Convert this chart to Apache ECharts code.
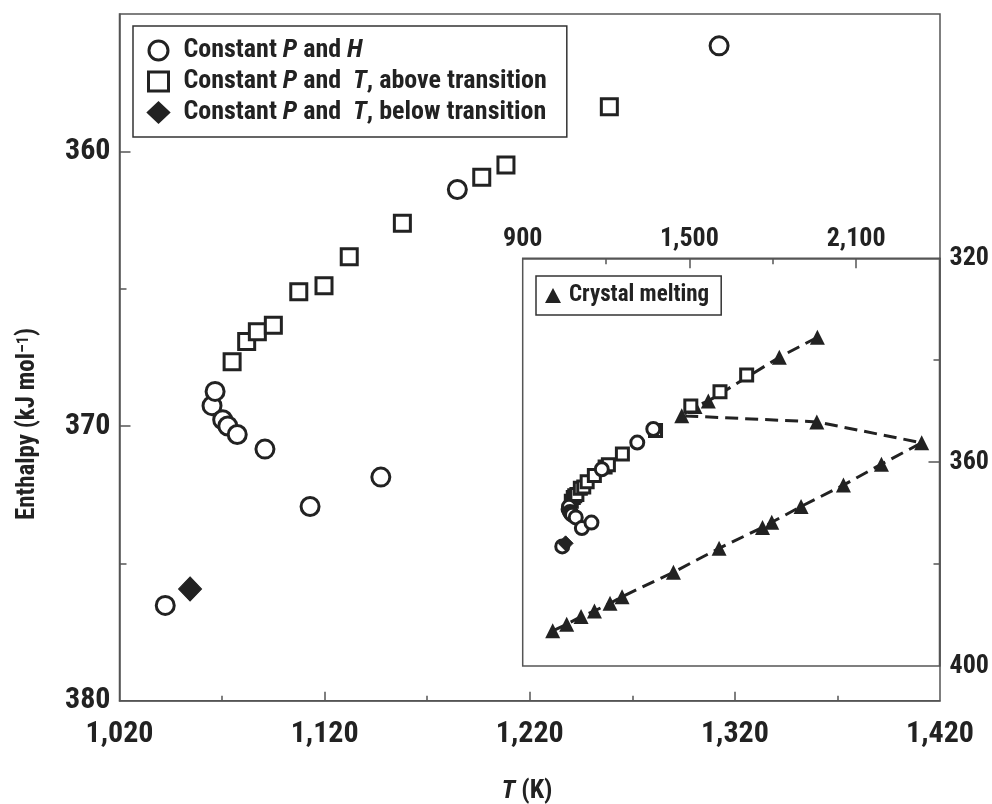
<!DOCTYPE html>
<html>
<head>
<meta charset="utf-8">
<script src="https://cdn.jsdelivr.net/npm/echarts@6/dist/echarts.min.js"></script>
<style>
  html, body { margin: 0; padding: 0; background: #fff; }
  #chart { width: 992px; height: 804px; }
</style>
</head>
<body>
<div id="chart"></div>
<script>
// Constant P and H runs (temperature K, enthalpy kJ/mol)
const hT = [1042.3, 1065.1, 1066.6, 1070.3, 1072.8, 1077.4, 1090.9, 1112.9, 1147.4, 1184.7, 1312.3, 1370];
const hH = [376.53, 369.26, 368.74, 369.77, 370.0, 370.31, 370.84, 372.93, 371.86, 361.39, 356.16, 353.5];

// Constant P and T, above transition
const aT = [1074.9, 1082.0, 1087.2, 1095.0, 1107.4, 1119.7, 1132.0, 1157.9, 1196.6, 1208.4, 1258.8, 1378, 1505, 1610, 1706];
const aH = [367.66, 366.92, 366.57, 366.33, 365.11, 364.89, 363.84, 362.62, 360.94, 360.5, 358.38, 353.8, 349.0, 346.2, 342.9];

// Constant P and T, below transition
const bT = [1054.4];
const bH = [375.93];

// Crystal melting path (in the order it was traced)
const mT = [1008, 1058.4, 1110, 1158.1, 1214.3, 1257.5, 1442.4, 1606.8, 1763, 1796.3, 1901.8, 2054.3, 2191, 2336, 1958.5, 1472.4, 1520, 1568, 1823.6, 1960.5];
const mH = [393.1, 391.8, 390.3, 389.2, 387.7, 386.4, 381.6, 376.9, 372.8, 371.8, 368.7, 364.5, 360.4, 356.2, 352.1, 350.9, 349.1, 348.0, 339.4, 335.5];

// Axis ticks and labels
const mainXLabels = [1020, 1120, 1220, 1320, 1420];
const mainXMajor = [1120, 1220, 1320];
const mainXMinor = [1070, 1170, 1270, 1370];
const mainYLabels = [360, 370, 380];
const mainYMajor = [360, 370];
const mainYMinor = [365, 375];
const insetXLabels = [900, 1500, 2100];
const insetXMajor = [1500, 2100];
const insetXMinor = [1200, 1800];
const insetYLabels = [320, 360, 400];
const insetYMajor = [360];
const insetYMinor = [340, 380];

const seriesNames = [
  'Constant P and H',
  'Constant P and T, above transition',
  'Constant P and T, below transition'
];
const legendRich = {
  'Constant P and H': 'Constant {it|P} and {it|H}',
  'Constant P and T, above transition': 'Constant {it|P} and  {it|T}, above transition',
  'Constant P and T, below transition': 'Constant {it|P} and  {it|T}, below transition'
};
const meltName = 'Crystal melting';

const zip = (xs, ys) => xs.map((x, i) => [x, ys[i]]);

const FONT = "'Roboto Condensed', 'Liberation Sans Narrow', 'DejaVu Sans Condensed', sans-serif";
const INK = '#222';
const FRAME = '#555';

function valueAxis(o) {
  return Object.assign({
    type: 'value',
    scale: false,
    splitLine: { show: false },
    axisLine: { show: true, onZero: false, lineStyle: { color: FRAME, width: 1.5 } },
    axisTick: { show: false },
    axisLabel: { show: false },
  }, o);
}

function tickLabel(values, size, margin) {
  return {
    show: true,
    customValues: values,
    margin: margin,
    color: INK,
    fontFamily: FONT,
    fontWeight: 'bold',
    fontSize: size,
    formatter: v => Number(v).toLocaleString('en-US')
  };
}

function ticks(values, len) {
  return { show: true, inside: true, length: len, customValues: values, lineStyle: { color: FRAME, width: 1.5 } };
}

const chart = echarts.init(document.getElementById('chart'), null, { renderer: 'canvas' });

const option = {
  backgroundColor: '#fff',
  animation: false,
  grid: [
    { left: 119.5, top: 14, width: 820.5, height: 686.7, show: true, borderColor: FRAME, borderWidth: 1.5, backgroundColor: 'transparent' },
    { left: 522.7, top: 258.3, width: 416.8, height: 407.7, show: true, borderColor: FRAME, borderWidth: 1.5, backgroundColor: '#fff', z: 3 }
  ],
  xAxis: [
    valueAxis({ gridIndex: 0, position: 'bottom', min: 1020, max: 1420,
      axisTick: ticks(mainXMajor, 9), axisLabel: tickLabel(mainXLabels, 30, 19) }),
    valueAxis({ gridIndex: 0, position: 'bottom', min: 1020, max: 1420,
      axisLine: { show: false }, axisTick: ticks(mainXMinor, 5) }),
    valueAxis({ gridIndex: 1, position: 'top', min: 900, max: 2400, z: 4,
      axisTick: ticks(insetXMajor, 10), axisLabel: tickLabel(insetXLabels, 26, 6) }),
    valueAxis({ gridIndex: 1, position: 'top', min: 900, max: 2400, z: 4,
      axisLine: { show: false }, axisTick: ticks(insetXMinor, 6) })
  ],
  yAxis: [
    valueAxis({ gridIndex: 0, position: 'left', inverse: true, min: 355, max: 380,
      axisTick: ticks(mainYMajor, 11), axisLabel: tickLabel(mainYLabels, 30, 9) }),
    valueAxis({ gridIndex: 0, position: 'left', inverse: true, min: 355, max: 380,
      axisLine: { show: false }, axisTick: ticks(mainYMinor, 7) }),
    valueAxis({ gridIndex: 1, position: 'right', inverse: true, min: 320, max: 400, z: 4,
      axisTick: ticks(insetYMajor, 11), axisLabel: tickLabel(insetYLabels, 26, 10) }),
    valueAxis({ gridIndex: 1, position: 'right', inverse: true, min: 320, max: 400, z: 4,
      axisLine: { show: false }, axisTick: ticks(insetYMinor, 6) })
  ],
  legend: [
    {
      data: seriesNames,
      orient: 'vertical',
      left: 133, top: 26,
      padding: [9, 20, 9, 14],
      itemGap: 0,
      itemWidth: 20, itemHeight: 19,
      borderColor: '#333', borderWidth: 1.5,
      backgroundColor: '#fff',
      selectedMode: false,
      itemStyle: { borderWidth: 3 },
      formatter: name => legendRich[name],
      textStyle: {
        color: INK, fontFamily: FONT, fontWeight: 'bold', fontSize: 26, lineHeight: 31,
        padding: [0, 0, 0, 10],
        rich: {
          it: { color: INK, fontFamily: FONT, fontWeight: 'bold', fontStyle: 'italic', fontSize: 26, lineHeight: 31 }
        }
      }
    },
    {
      data: [{ name: meltName, icon: 'triangle' }],
      orient: 'vertical',
      left: 536, top: 276,
      padding: [6, 12, 6, 9],
      itemWidth: 16, itemHeight: 15,
      borderColor: '#333', borderWidth: 1.5,
      backgroundColor: '#fff',
      selectedMode: false,
      z: 5,
      itemStyle: { borderWidth: 0 },
      textStyle: { color: INK, fontFamily: FONT, fontWeight: 'bold', fontSize: 23, lineHeight: 27, padding: [0, 0, 0, 3] }
    }
  ],
  graphic: [
    {
      type: 'text', x: 28, y: 424, rotation: Math.PI / 2,
      style: {
        text: 'Enthalpy (kJ mol{sup|–1})',
        fill: INK, fontFamily: FONT, fontWeight: 'bold', fontSize: 25,
        align: 'center', verticalAlign: 'middle',
        rich: { sup: { fill: INK, fontFamily: FONT, fontWeight: 'bold', fontSize: 16, verticalAlign: 'top', padding: [0, 0, 8, 0] } }
      }
    },
    {
      type: 'text', x: 527, y: 791,
      style: {
        text: '{it|T} (K)',
        fill: INK, fontFamily: FONT, fontWeight: 'bold', fontSize: 26,
        align: 'center', verticalAlign: 'middle',
        rich: { it: { fill: INK, fontFamily: FONT, fontWeight: 'bold', fontStyle: 'italic', fontSize: 26 } }
      }
    }
  ],
  series: [
    // main panel
    { name: seriesNames[0], type: 'scatter', xAxisIndex: 0, yAxisIndex: 0, data: zip(hT, hH),
      symbol: 'circle', symbolSize: 18, itemStyle: { color: '#fff', borderColor: INK, borderWidth: 3, opacity: 1 } },
    { name: seriesNames[1], type: 'scatter', xAxisIndex: 0, yAxisIndex: 0, data: zip(aT, aH),
      symbol: 'rect', symbolSize: 16, itemStyle: { color: '#fff', borderColor: INK, borderWidth: 3, opacity: 1 } },
    { name: seriesNames[2], type: 'scatter', xAxisIndex: 0, yAxisIndex: 0, data: zip(bT, bH),
      symbol: 'diamond', symbolSize: [23, 24], itemStyle: { color: INK, borderColor: INK, borderWidth: 1, opacity: 1 } },
    // inset panel
    { name: meltName, type: 'line', xAxisIndex: 2, yAxisIndex: 2, data: zip(mT, mH), z: 6,
      symbol: 'triangle', symbolSize: 15, showSymbol: true, showAllSymbol: true,
      itemStyle: { color: INK, borderWidth: 0 },
      lineStyle: { color: INK, width: 3, type: [13, 7] } },
    { name: seriesNames[1], type: 'scatter', xAxisIndex: 2, yAxisIndex: 2, data: zip(aT, aH), z: 6,
      symbol: 'rect', symbolSize: 12, itemStyle: { color: '#fff', borderColor: INK, borderWidth: 3, opacity: 1 } },
    { name: seriesNames[0], type: 'scatter', xAxisIndex: 2, yAxisIndex: 2, data: zip(hT, hH), z: 6,
      symbol: 'circle', symbolSize: 13, itemStyle: { color: '#fff', borderColor: INK, borderWidth: 3, opacity: 1 } },
    { name: seriesNames[2], type: 'scatter', xAxisIndex: 2, yAxisIndex: 2, data: zip(bT, bH), z: 6,
      symbol: 'diamond', symbolSize: 15, itemStyle: { color: INK, borderColor: INK, borderWidth: 1, opacity: 1 } }
  ]
};

chart.setOption(option);
</script>
</body>
</html>
